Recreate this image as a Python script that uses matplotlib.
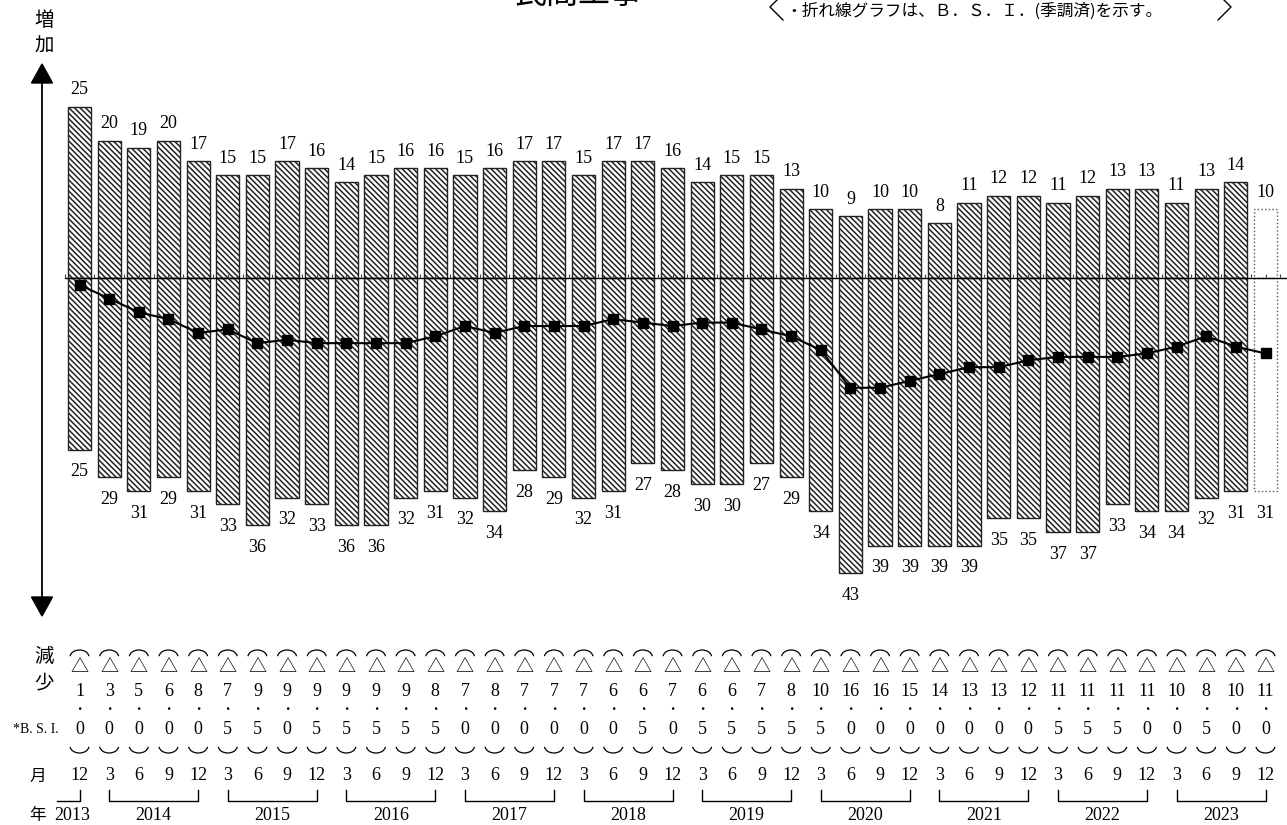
import numpy as np
import matplotlib
matplotlib.use("Agg")
import matplotlib.pyplot as plt
from matplotlib.patches import Arc, Polygon

# 調査時点 (2013年12月 〜 2023年12月, 最後は見通し)
years = [2013] + [y for y in range(2014, 2024) for _ in range(4)]
months = [12] + [3, 6, 9, 12] * 10

# 増加 / 減少 (%)
increase = [25, 20, 19, 20, 17, 15, 15, 17, 16, 14, 15, 16, 16, 15, 16, 17, 17, 15, 17, 17, 16,
            14, 15, 15, 13, 10, 9, 10, 10, 8, 11, 12, 12, 11, 12, 13, 13, 11, 13, 14, 10]
decrease = [25, 29, 31, 29, 31, 33, 36, 32, 33, 36, 36, 32, 31, 32, 34, 28, 29, 32, 31, 27, 28,
            30, 30, 27, 29, 34, 43, 39, 39, 39, 39, 35, 35, 37, 37, 33, 34, 34, 32, 31, 31]

# B.S.I. (季調済)
bsi = [-1.0, -3.0, -5.0, -6.0, -8.0, -7.5, -9.5, -9.0, -9.5, -9.5, -9.5, -9.5, -8.5, -7.0,
       -8.0, -7.0, -7.0, -7.0, -6.0, -6.5, -7.0, -6.5, -6.5, -7.5, -8.5, -10.5, -16.0, -16.0,
       -15.0, -14.0, -13.0, -13.0, -12.0, -11.5, -11.5, -11.5, -11.0, -10.0, -8.5, -10.0, -11.0]

forecast = [False] * 40 + [True]

title = "民間工事"
note = "・折れ線グラフは、Ｂ．Ｓ．Ｉ．(季調済)を示す。"

# --- レイアウト (ピクセル基準) ---
W, H = 1287, 825
X0, DX = 79.5, 29.65   # 1本目の中心, 間隔
Y0, DY = 278, 6.86     # ゼロ線, 1単位あたり


def px(x):
    return (x - X0) / DX


def py(y):
    return (Y0 - y) / DY


SERIF = "Liberation Serif"
JP = ["Noto Sans CJK JP", "DejaVu Sans"]

plt.rcParams["hatch.linewidth"] = 1.1

fig = plt.figure(figsize=(W / 100, H / 100), dpi=100)
ax = fig.add_axes([0, 0, 1, 1])
ax.set_xlim(px(0), px(W))
ax.set_ylim(py(H), py(0))
ax.axis("off")

x = np.arange(len(months))
inc = np.array(increase)
dec = np.array(decrease)
fc = np.array(forecast)

# 実績: 斜線 / 見通し: 点線枠
for sign, vals in ((1, inc), (-1, dec)):
    ax.bar(x[~fc], sign * vals[~fc], width=0.78, color="white", edgecolor="#222222",
           hatch="\\" * 6, linewidth=1.0, zorder=2)
    ax.bar(x[fc], sign * vals[fc], width=0.78, color="white", edgecolor="#555555",
           linestyle=":", linewidth=1.0, zorder=2)

# 数値ラベル
for i in x:
    ax.annotate(str(increase[i]), (i, increase[i]), xytext=(0, 6), textcoords="offset points",
                ha="center", va="bottom", fontsize=13, family=SERIF)
    ax.annotate(str(decrease[i]), (i, -decrease[i]), xytext=(0, -10), textcoords="offset points",
                ha="center", va="top", fontsize=13, family=SERIF)

# ゼロ線と目盛り
ax.plot([px(65), px(W)], [0, 0], color="black", lw=1.0, zorder=3)
ticks = np.arange(-0.5, len(x), 0.5)
ax.vlines(ticks, 0, 4 / DY, color="#444444", lw=0.8, zorder=3)

# B.S.I. 折れ線
ax.plot(x, bsi, "-s", color="black", lw=1.5, ms=7.5, zorder=5)

# 左の矢印
ax.plot([px(42), px(42)], [py(80), py(600)], color="black", lw=1.3)
ax.add_patch(Polygon([(px(31.5), py(83)), (px(52.5), py(83)), (px(42), py(64))],
                     closed=True, color="black"))
ax.add_patch(Polygon([(px(31.5), py(597)), (px(52.5), py(597)), (px(42), py(616))],
                     closed=True, color="black"))
ax.text(px(44), py(20), "増", ha="center", va="center", fontsize=14, family=JP)
ax.text(px(44), py(46), "加", ha="center", va="center", fontsize=14, family=JP)
ax.text(px(44), py(656), "減", ha="center", va="center", fontsize=14, family=JP)
ax.text(px(44), py(683), "少", ha="center", va="center", fontsize=14, family=JP)

# タイトルと注記
ax.text(px(578), py(-6), title, ha="center", va="center", fontsize=23, family=JP)
ax.text(px(785), py(11), note, ha="left", va="center", fontsize=12, family=JP)
ax.plot([px(783), px(770), px(783)], [py(-6), py(7), py(20)], color="black", lw=1.0)
ax.plot([px(1218), px(1231), px(1218)], [py(-6), py(7), py(20)], color="black", lw=1.0)

# 下部の表: B.S.I. を縦書き (△整数・小数)
aw, ah = 19 / DX, 14 / DY
for i in x:
    whole, frac = f"{abs(bsi[i]):.1f}".split(".")
    ax.add_patch(Arc((i, py(657)), aw, ah, theta1=20, theta2=160, lw=0.9))
    ax.text(i, py(667), "△", ha="center", va="center", fontsize=13, family=JP)
    ax.text(i, py(691), whole, ha="center", va="center", fontsize=13, family=SERIF)
    ax.text(i, py(709), "・", ha="center", va="center", fontsize=9, family=JP)
    ax.text(i, py(730), frac, ha="center", va="center", fontsize=13, family=SERIF)
    ax.add_patch(Arc((i, py(746)), aw, ah, theta1=200, theta2=340, lw=0.9))
    ax.text(i, py(776), str(months[i]), ha="center", va="center", fontsize=13, family=SERIF)

ax.text(px(36), py(730), "*B. S. I.", ha="center", va="center", fontsize=10, family=SERIF)
ax.text(px(38), py(776), "月", ha="center", va="center", fontsize=12, family=JP)
ax.text(px(38), py(816), "年", ha="center", va="center", fontsize=12, family=JP)

# 年の括弧
yrs = np.array(years)
for yr in sorted(set(years)):
    idx = x[yrs == yr]
    a, b = idx.min(), idx.max()
    if a == b:
        ax.plot([px(57), b, b], [py(801), py(801), py(790)], color="black", lw=1.0)
        ax.text(px(72), py(816), str(yr), ha="center", va="center", fontsize=13, family=SERIF)
    else:
        ax.plot([a, a, b, b], [py(790), py(801), py(801), py(790)], color="black", lw=1.0)
        ax.text((a + b) / 2, py(816), str(yr), ha="center", va="center", fontsize=13,
                family=SERIF)

fig.savefig("out.png", dpi=100, facecolor="white")
